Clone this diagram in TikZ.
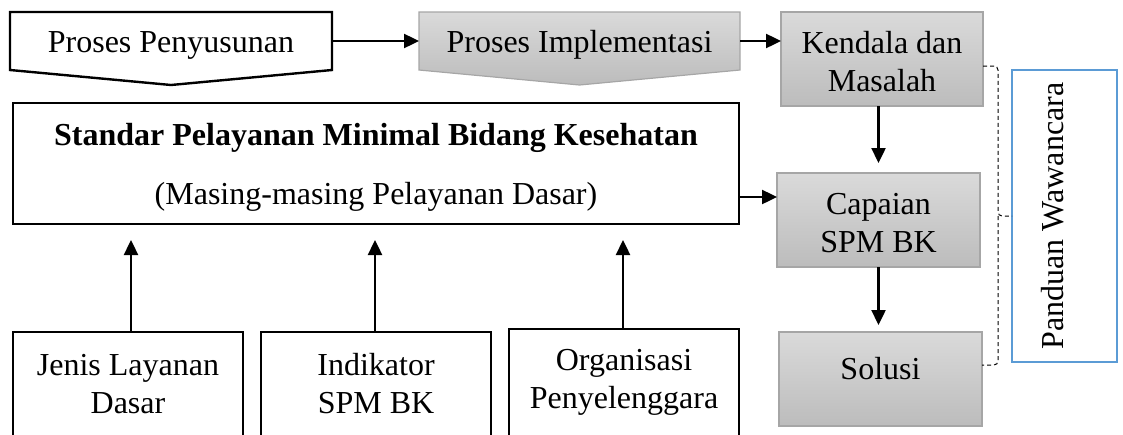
\documentclass[tikz,border=0pt]{standalone}
\usepackage{fontspec}
\setmainfont{Liberation Serif}
\usetikzlibrary{arrows.meta,calc}
\definecolor{boxgrayT}{RGB}{218,218,218}
\definecolor{boxgrayB}{RGB}{188,188,188}
\definecolor{boxgrayL}{RGB}{166,166,166}
\definecolor{pwblue}{RGB}{91,155,213}
\begin{document}
\begin{tikzpicture}[x=0.5pt,y=-0.5pt,
  font=\fontsize{16}{19}\selectfont,
  every node/.style={inner sep=0pt, outer sep=0pt},
  blackbox/.style={draw=black, line width=1.2pt, align=center},
  graybox/.style={draw=boxgrayL, line width=0.6pt, top color=boxgrayT, bottom color=boxgrayB, align=center},
  bluebox/.style={draw=pwblue, line width=1pt},
  txt/.style={align=center},
  conn/.style={line width=1.2pt, -{Triangle[length=7.5pt,width=7pt]}},
  brace/.style={line width=0.5pt, dashed, dash pattern=on 2pt off 1.5pt, rounded corners=2pt},
  ]
\useasboundingbox (0,0) rectangle (1123,434);
\clip (0,0) rectangle (1123,434);

% top row pentagons
\node[txt, minimum width=161pt, minimum height=29pt] (pp) at (171,41) {};
\draw[line width=1.2pt] (pp.north west) -- (pp.north east) -- (pp.south east)
  -- ([yshift=-7.5pt]pp.south) -- (pp.south west) -- cycle;
\node[txt] (pptxt) at (171,45) {Proses Penyusunan};

\node[txt, minimum width=160.5pt, minimum height=29pt] (pi) at (579.5,41) {};
\draw[draw=boxgrayL, line width=0.6pt, top color=boxgrayT, bottom color=boxgrayB]
  (pi.north west) -- (pi.north east) -- (pi.south east)
  -- ([yshift=-7.5pt]pi.south) -- (pi.south west) -- cycle;
\node[txt] (pitxt) at (579.5,45) {Proses Implementasi};

% right column
\node[graybox, minimum width=101pt, minimum height=47pt] (km) at (882,59) {};
\node[txt] (kmtxt) at (882,62) {Kendala dan\\Masalah};
\node[graybox, minimum width=101.5pt, minimum height=47pt] (cap) at (878.5,220) {};
\node[txt] (captxt) at (878.5,223) {Capaian\\SPM BK};
\node[graybox, minimum width=101.5pt, minimum height=47pt] (sol) at (880.5,379) {};
\node[txt] (soltxt) at (880.5,369) {Solusi};

% Panduan Wawancara
\node[bluebox, minimum width=52.5pt, minimum height=146pt] (pw) at (1064.5,216) {};
\node[txt, rotate=90] (pwtxt) at (1053,216) {Panduan Wawancara};

% Standar box
\node[blackbox, minimum width=363pt, minimum height=60.5pt] (spm) at (376,163.5) {};
\node[txt, font=\fontsize{16}{19}\selectfont\bfseries] (sp1) at (376,138) {Standar Pelayanan Minimal Bidang Kesehatan};
\node[txt] (sp2) at (376,197) {(Masing-masing Pelayanan Dasar)};

% bottom boxes
\node[blackbox, minimum width=115pt, minimum height=52pt] (jl) at (128,384) {Jenis Layanan\\Dasar};
\node[blackbox, minimum width=115pt, minimum height=52pt] (ind) at (376,384) {Indikator\\SPM BK};
\node[blackbox, minimum width=115pt, minimum height=53.5pt] (org) at (624,382.5) {Organisasi\\Penyelenggara};

% connectors
\draw[conn] (pp.east) -- (pi.west);
\draw[conn] (pi.east) -- (pi.east -| km.west);
\draw[conn] (sp2 -| spm.east) -- (sp2 -| cap.west);
\draw[conn] (cap.north |- km.south) -- ([yshift=5pt]cap.north);
\draw[conn] (cap.south) -- ([yshift=3.5pt]cap.south |- sol.north);
\draw[conn] ([xshift=1.5pt]jl.north) -- ([xshift=1.5pt,yshift=-8pt]jl.north |- spm.south);
\draw[conn] ([xshift=-0.5pt]ind.north) -- ([xshift=-0.5pt,yshift=-8pt]ind.north |- spm.south);
\draw[conn] ([xshift=-0.5pt]org.north) -- ([xshift=-0.5pt,yshift=-8pt]org.north |- spm.south);

% dashed brace
\coordinate (bt) at (998,66);
\coordinate (bb) at (998,365);
\draw[brace] (bt -| km.east) -- (bt) -- (bt |- pw.west) -- (pw.west);
\draw[brace] (bt |- pw.west) -- (bb) -- (bb -| sol.east);
\end{tikzpicture}
\end{document}
